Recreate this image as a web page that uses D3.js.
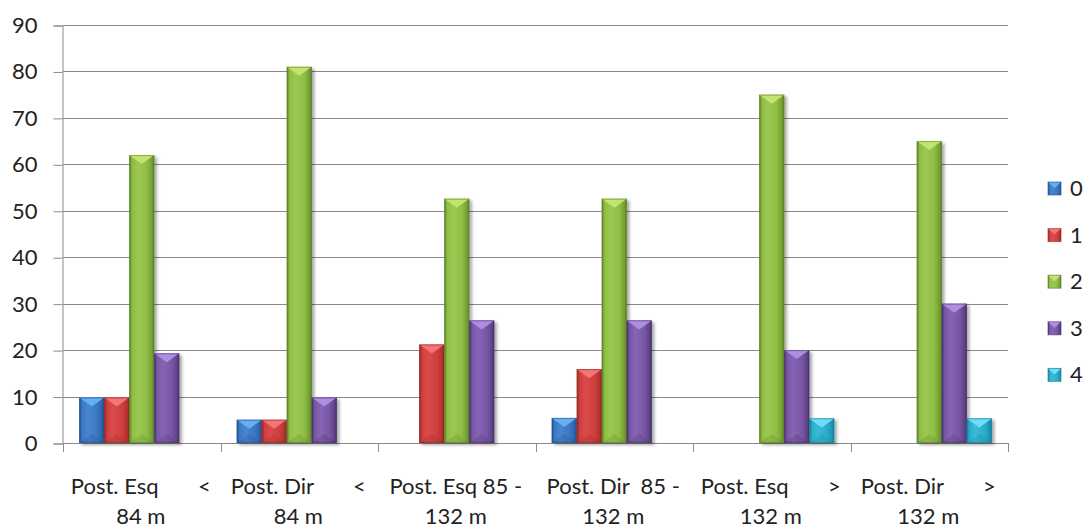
<!DOCTYPE html>
<html>
<head>
<meta charset="utf-8">
<script src="https://cdn.jsdelivr.net/npm/d3@7"></script>
<style>
  html, body { margin: 0; padding: 0; background: #ffffff; }
  svg { display: block; }
  text { font-family: Lato, "Open Sans", sans-serif; fill: #222222; }
</style>
</head>
<body>
<svg id="chart" width="1085" height="530"></svg>
<script>
// Categories (two-line axis labels) and the five series
const categories = ["PE84", "PD84", "PE85", "PD85", "PE132", "PD132"];
const categoryLines = [
  ["Post. Esq       <", "84 m"],
  ["Post. Dir       <", "84 m"],
  ["Post. Esq 85 -", "132 m"],
  ["Post. Dir  85 -", "132 m"],
  ["Post. Esq       >", "132 m"],
  ["Post. Dir       >", "132 m"]
];
const seriesNames = ["0", "1", "2", "3", "4"];
const series0 = [9.8, 5.0, 0, 5.4, 0, 0];
const series1 = [9.8, 5.0, 21.2, 15.9, 0, 0];
const series2 = [62, 81, 52.6, 52.6, 75, 65];
const series3 = [19.3, 9.8, 26.4, 26.4, 20, 30];
const series4 = [0, 0, 0, 0, 5.3, 5.3];
const yTicks = [0, 10, 20, 30, 40, 50, 60, 70, 80, 90];

const seriesValues = [series0, series1, series2, series3, series4];

// Fill tones per series: base, highlight, shade
const palette = [
  { base: "#3D78C4", light: "#66B0F0", dark: "#22508C" },
  { base: "#D03F3E", light: "#F47474", dark: "#962624" },
  { base: "#8FBE46", light: "#C4E470", dark: "#5A8222" },
  { base: "#7857A5", light: "#AE8EE2", dark: "#48306D" },
  { base: "#2AAECD", light: "#70DEF4", dark: "#167E98" }
];

const svg = d3.select("#chart");
const plotLeft = 63, plotRight = 1008, plotTop = 25, plotBottom = 443;

const x0 = d3.scaleBand().domain(categories).range([plotLeft, plotRight])
  .paddingInner(0.206).paddingOuter(0.103);
const x1 = d3.scaleBand().domain(seriesNames).range([0, x0.bandwidth()]);
const y = d3.scaleLinear().domain([0, 90]).range([plotBottom, plotTop]);

// Gradients and shadow
const defs = svg.append("defs");
palette.forEach((p, i) => {
  const g = defs.append("linearGradient").attr("id", "grad" + i)
    .attr("x1", "0%").attr("x2", "100%").attr("y1", "0%").attr("y2", "0%");
  g.append("stop").attr("offset", "0%").attr("stop-color", p.dark);
  g.append("stop").attr("offset", "12%").attr("stop-color", p.base);
  g.append("stop").attr("offset", "35%").attr("stop-color", d3.interpolateRgb(p.base, p.light)(0.25));
  g.append("stop").attr("offset", "70%").attr("stop-color", p.base);
  g.append("stop").attr("offset", "90%").attr("stop-color", d3.interpolateRgb(p.base, p.dark)(0.5));
  g.append("stop").attr("offset", "100%").attr("stop-color", p.dark);
});
const f = defs.append("filter").attr("id", "shadow")
  .attr("x", "-30%").attr("y", "-10%").attr("width", "170%").attr("height", "130%");
f.append("feDropShadow").attr("dx", 2.5).attr("dy", 2).attr("stdDeviation", 1.8)
  .attr("flood-color", "#000").attr("flood-opacity", 0.35);

// Horizontal gridlines
svg.append("g").selectAll("line").data(yTicks.filter(t => t > 0)).join("line")
  .attr("x1", plotLeft).attr("x2", plotRight)
  .attr("y1", d => Math.round(y(d)) + 0.5).attr("y2", d => Math.round(y(d)) + 0.5)
  .attr("stroke", "#8a8a8a").attr("stroke-width", 1);

// Y axis
const yAxis = svg.append("g").attr("transform", `translate(${plotLeft - 0.5},0.5)`)
  .call(d3.axisLeft(y).tickValues(yTicks).tickSize(9).tickPadding(16).tickFormat(d3.format("d")));
yAxis.select(".domain").attr("stroke", "#8a8a8a");
yAxis.selectAll(".tick line").attr("stroke", "#8a8a8a");
yAxis.selectAll(".tick text").attr("font-size", 22).attr("fill", "#222222")
  .attr("font-family", "Lato, sans-serif");

// X axis with boundary ticks
const xAxisG = svg.append("g");
xAxisG.append("line").attr("x1", plotLeft).attr("x2", plotRight)
  .attr("y1", plotBottom + 0.5).attr("y2", plotBottom + 0.5).attr("stroke", "#8a8a8a");
const step = x0.step();
const boundaries = d3.range(categories.length + 1).map(i => plotLeft + i * step);
xAxisG.selectAll("line.b").data(boundaries).join("line").attr("class", "b")
  .attr("x1", d => Math.round(d) + 0.5).attr("x2", d => Math.round(d) + 0.5)
  .attr("y1", plotBottom).attr("y2", plotBottom + 9).attr("stroke", "#8a8a8a");

// Category labels
const lbl = svg.append("g").selectAll("text").data(categories).join("text")
  .attr("text-anchor", "middle").attr("font-size", 22)
  .attr("xml:space", "preserve").style("white-space", "pre");
lbl.each(function(c, i) {
  const cx = plotLeft + (i + 0.5) * step;
  const t = d3.select(this);
  categoryLines[i].forEach((line, j) => {
    t.append("tspan").attr("x", cx - 1).attr("y", 494 + j * 30).text(line);
  });
});

// Bars
const barData = [];
categories.forEach((c, ci) => {
  seriesNames.forEach((s, si) => {
    const v = seriesValues[si][ci];
    if (v > 0) barData.push({ c, s, si, v });
  });
});

const bars = svg.append("g").selectAll("g.bar").data(barData).join("g")
  .attr("class", "bar").attr("filter", "url(#shadow)");
bars.each(function(d) {
  const g = d3.select(this);
  const xL = x0(d.c) + x1(d.s);
  const w = x1.bandwidth();
  const yT = y(d.v), yB = y(0);
  const p = palette[d.si];
  const bev = Math.min(9, (yB - yT) / 2);
  g.append("rect").attr("x", xL).attr("y", yT).attr("width", w).attr("height", yB - yT)
    .attr("fill", `url(#grad${d.si})`);
  // lower bevel
  g.append("polygon")
    .attr("points", [[xL, yB], [xL + w, yB], [xL + w / 2, yB - bev]].map(q => q.join(",")).join(" "))
    .attr("fill", p.dark).attr("opacity", 0.25);
  // upper bevel
  g.append("polygon")
    .attr("points", [[xL, yT], [xL + w, yT], [xL + w / 2, yT + bev]].map(q => q.join(",")).join(" "))
    .attr("fill", p.light);
  g.append("rect").attr("x", xL + 0.5).attr("y", yT + 0.5).attr("width", w - 1).attr("height", yB - yT - 1)
    .attr("fill", "none").attr("stroke", p.dark).attr("stroke-opacity", 0.55).attr("stroke-width", 1);
});

// Legend
const legend = svg.append("g").selectAll("g").data(seriesNames).join("g")
  .attr("transform", (d, i) => `translate(1048, ${182 + i * 46.6})`);
legend.append("rect").attr("width", 13).attr("height", 13)
  .attr("fill", (d, i) => `url(#grad${i})`)
  .attr("stroke", (d, i) => palette[i].dark).attr("stroke-opacity", 0.6);
legend.append("polygon").attr("points", "0.5,0.5 12.5,0.5 6.5,6")
  .attr("fill", (d, i) => palette[i].light);
legend.append("text").attr("x", 22).attr("y", 14).attr("font-size", 22).text(d => d);
</script>
</body>
</html>
